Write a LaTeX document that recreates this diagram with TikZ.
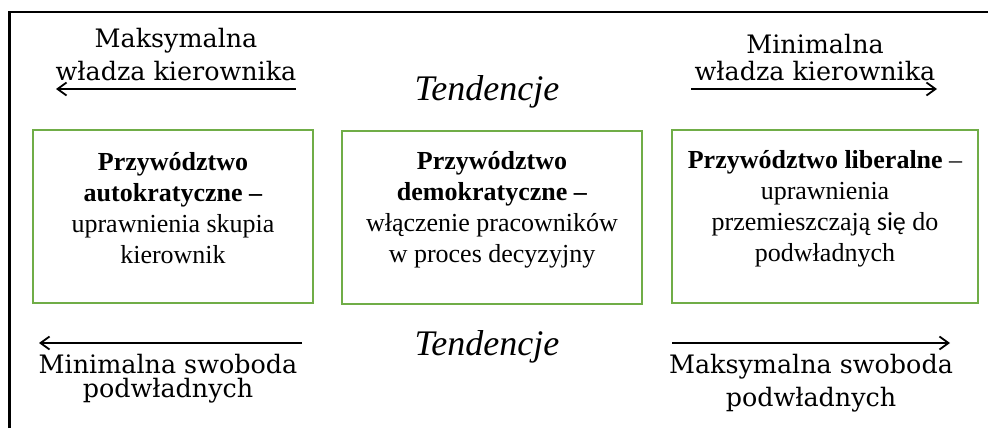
\documentclass[tikz,border=0pt]{standalone}
\usepackage{fontspec}
\setmainfont{Liberation Serif}
\newfontfamily\arrowfont{DejaVu Serif}
\newfontfamily\sansword{Carlito}
\usetikzlibrary{arrows.meta}
\definecolor{boxgreen}{HTML}{70AD47}

\begin{document}
\begin{tikzpicture}[x=0.5pt,y=-0.5pt]
  \tikzset{stylebox/.style={draw=boxgreen,line width=1.4pt,inner sep=0pt,minimum height=86.5pt}}
  \tikzset{boxtext/.style={inner sep=0pt,align=center,yshift=4pt,font=\fontsize{13}{15.5}\selectfont}}
  \tikzset{trendlabel/.style={font=\fontsize{18}{20}\selectfont\itshape,inner sep=0pt,anchor=base}}
  \tikzset{sidelabel/.style={font=\arrowfont\fontsize{12.7}{15}\selectfont,align=center,inner sep=0pt,anchor=base}}
  \tikzset{trendarrow/.style={line width=0.9pt,-{Straight Barb[length=4.5pt,width=6.5pt]}}}
  \useasboundingbox (0,0) rectangle (988,428);
  % frame
  \coordinate (frametl) at (9.5,12);
  \draw[line width=1.2pt] (9.5,428) -- (frametl) -- (988,12);
  % styles of leadership
  \node[stylebox,minimum width=140pt] (autokrat) at (173,216.5) {};
  \node[stylebox,minimum width=150pt] (demokrat) at (492,217.5) {};
  \node[stylebox,minimum width=153pt] (liberal) at (825,216.5) {};
  \node[boxtext] (autokrattext) at (autokrat.center)
    {\textbf{Przywództwo}\\\textbf{autokratyczne –}\\uprawnienia skupia\\kierownik};
  \node[boxtext] (demokrattext) at (demokrat.center)
    {\textbf{Przywództwo}\\\textbf{demokratyczne –}\\włączenie pracowników\\w proces decyzyjny};
  \node[boxtext] (liberaltext) at (liberal.center)
    {\textbf{Przywództwo liberalne} –\\uprawnienia\\przemieszczają {\sansword się} do\\podwładnych};
  % tendencies
  \node[trendlabel] (trendtop) at (487,100) {Tendencje};
  \node[trendlabel] (trendbot) at (487,355) {Tendencje};
  % arrows
  \coordinate (tlstart) at (296,89);
  \coordinate (tlend) at (56,89);
  \coordinate (trstart) at (691,89);
  \coordinate (trend) at (937,89);
  \coordinate (blstart) at (302,343);
  \coordinate (blend) at (39,343);
  \coordinate (brstart) at (672,343);
  \coordinate (brend) at (950,343);
  \draw[trendarrow] (tlstart) -- (tlend);
  \draw[trendarrow] (trstart) -- (trend);
  \draw[trendarrow] (blstart) -- (blend);
  \draw[trendarrow] (brstart) -- (brend);
  \node[sidelabel] (maxpower) at (176,80) {Maksymalna\\[1.5pt]władza kierownika};
  \node[sidelabel] (minpower) at (815,80) {Minimalna\\[-1.5pt]władza kierownika};
  \node[sidelabel] (minfree) at (168,397) {Minimalna swoboda\\[-3pt]podwładnych};
  \node[sidelabel] (maxfree) at (811,406) {Maksymalna swoboda\\[1.5pt]podwładnych};
\end{tikzpicture}
\end{document}
